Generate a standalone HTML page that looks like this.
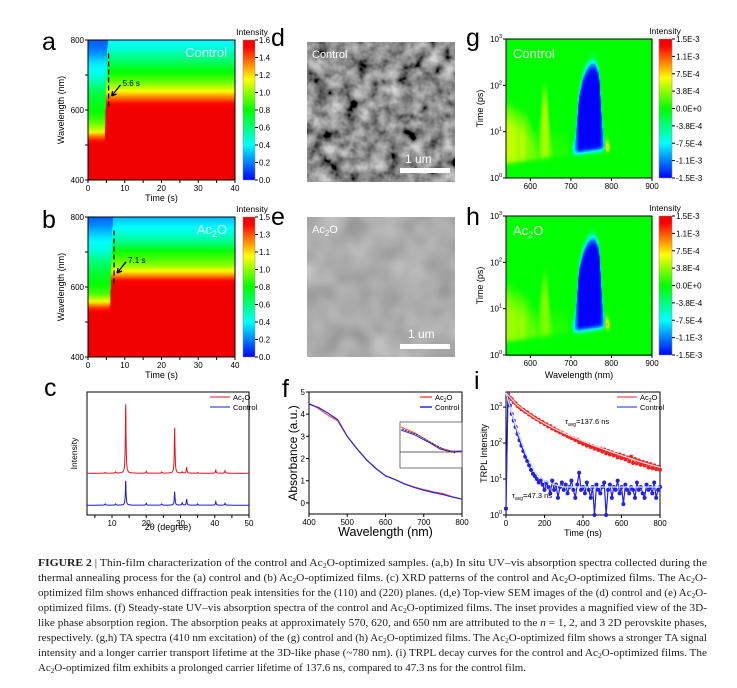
<!DOCTYPE html>
<html><head><meta charset="utf-8">
<style>
html,body{margin:0;padding:0;background:#fff;}
#fig{position:relative;width:737px;height:688px;overflow:hidden;font-family:"Liberation Sans",sans-serif;}
canvas{position:absolute;}
#ov{position:absolute;left:0;top:0;}
</style></head>
<body>
<div id="fig">
<canvas id="ca" width="147" height="140" style="left:88px;top:40px"></canvas>
<canvas id="cb" width="147" height="140" style="left:88px;top:217px"></canvas>
<canvas id="cg" width="146" height="139" style="left:506px;top:39px"></canvas>
<canvas id="ch" width="146" height="140" style="left:506px;top:216px"></canvas>
<svg id="ov" width="737" height="688" xmlns="http://www.w3.org/2000/svg">
<defs>
<linearGradient id="jet" x1="0" y1="1" x2="0" y2="0">
<stop offset="0" stop-color="#0000ff"/><stop offset="0.25" stop-color="#00ffff"/><stop offset="0.5" stop-color="#00ff00"/><stop offset="0.72" stop-color="#ffff00"/><stop offset="0.95" stop-color="#ff0000"/><stop offset="1" stop-color="#f00000"/>
</linearGradient>
<filter id="semA" x="0" y="0" width="1" height="1"><feTurbulence type="fractalNoise" baseFrequency="0.07" numOctaves="3" seed="3"/><feColorMatrix type="matrix" values="0.33 0.33 0.33 0 0  0.33 0.33 0.33 0 0  0.33 0.33 0.33 0 0  0 0 0 0 1"/><feComponentTransfer><feFuncR type="linear" slope="1.7" intercept="-0.57"/><feFuncG type="linear" slope="1.7" intercept="-0.57"/><feFuncB type="linear" slope="1.7" intercept="-0.57"/></feComponentTransfer></filter>
<filter id="semB" x="0" y="0" width="1" height="1"><feTurbulence type="fractalNoise" baseFrequency="0.035" numOctaves="2" seed="7"/><feColorMatrix type="matrix" values="0.33 0.33 0.33 0 0  0.33 0.33 0.33 0 0  0.33 0.33 0.33 0 0  0 0 0 0 1"/><feComponentTransfer><feFuncR type="linear" slope="0.6" intercept="0.12"/><feFuncG type="linear" slope="0.6" intercept="0.12"/><feFuncB type="linear" slope="0.6" intercept="0.12"/></feComponentTransfer></filter>
</defs>
<g id="root"></g>
<rect x="307" y="42" width="148" height="140" fill="#555" filter="url(#semA)"/>
<text x="312" y="58" font-size="11" fill="#fff">Control</text>
<text x="405" y="163" font-size="12" fill="#fff">1 um</text>
<rect x="400" y="168" width="50" height="5" fill="#fff"/>
<rect x="307" y="217" width="148" height="140" fill="#666" filter="url(#semB)"/>
<text x="312" y="233" font-size="11" fill="#fff">Ac<tspan font-size="8" dy="3">2</tspan><tspan dy="-3">O</tspan></text>
<text x="408" y="338" font-size="12" fill="#fff">1 um</text>
<rect x="400" y="344" width="50" height="5" fill="#fff"/>
<g font-size="25" fill="#000">
<text x="42" y="50">a</text><text x="42" y="228">b</text><text x="44" y="396">c</text>
<text x="271" y="46">d</text><text x="271" y="225">e</text><text x="282" y="397">f</text>
<text x="466" y="46">g</text><text x="466" y="225">h</text><text x="474" y="389">i</text>
</g>
<g font-family="Liberation Serif, serif" font-size="10.5" fill="#222">
<text x="38" y="566" textLength="669" lengthAdjust="spacingAndGlyphs"><tspan font-weight="bold">FIGURE 2</tspan>  |  Thin-film characterization of the control and Ac<tspan font-size="7" dy="2">2</tspan><tspan dy="-2">O-optimized samples. (a,b) In situ UV–vis absorption spectra collected during the</tspan></text>
<text x="38" y="581" textLength="669" lengthAdjust="spacingAndGlyphs">thermal annealing process for the (a) control and (b) Ac<tspan font-size="7" dy="2">2</tspan><tspan dy="-2">O-optimized films. (c) XRD patterns of the control and Ac</tspan><tspan font-size="7" dy="2">2</tspan><tspan dy="-2">O-optimized films. The Ac</tspan><tspan font-size="7" dy="2">2</tspan><tspan dy="-2">O-</tspan></text>
<text x="38" y="596" textLength="669" lengthAdjust="spacingAndGlyphs">optimized film shows enhanced diffraction peak intensities for the (110) and (220) planes. (d,e) Top-view SEM images of the (d) control and (e) Ac<tspan font-size="7" dy="2">2</tspan><tspan dy="-2">O-</tspan></text>
<text x="38" y="611" textLength="669" lengthAdjust="spacingAndGlyphs">optimized films. (f) Steady-state UV–vis absorption spectra of the control and Ac<tspan font-size="7" dy="2">2</tspan><tspan dy="-2">O-optimized films. The inset provides a magnified view of the 3D-</tspan></text>
<text x="38" y="626" textLength="669" lengthAdjust="spacingAndGlyphs">like phase absorption region. The absorption peaks at approximately 570, 620, and 650 nm are attributed to the <tspan font-style="italic">n</tspan> = 1, 2, and 3 2D perovskite phases,</text>
<text x="38" y="641" textLength="669" lengthAdjust="spacingAndGlyphs">respectively. (g,h) TA spectra (410 nm excitation) of the (g) control and (h) Ac<tspan font-size="7" dy="2">2</tspan><tspan dy="-2">O-optimized films. The Ac</tspan><tspan font-size="7" dy="2">2</tspan><tspan dy="-2">O-optimized film shows a stronger TA signal</tspan></text>
<text x="38" y="656" textLength="669" lengthAdjust="spacingAndGlyphs">intensity and a longer carrier transport lifetime at the 3D-like phase (~780 nm). (i) TRPL decay curves for the control and Ac<tspan font-size="7" dy="2">2</tspan><tspan dy="-2">O-optimized films. The</tspan></text>
<text x="38" y="671" textLength="488" lengthAdjust="spacingAndGlyphs">Ac<tspan font-size="7" dy="2">2</tspan><tspan dy="-2">O-optimized film exhibits a prolonged carrier lifetime of 137.6 ns, compared to 47.3 ns for the control film.</tspan></text>
</g>
</svg>
</div>
<script>
// ---------- DATA ----------
const wlAB = [400,420,440,460,480,500,520,540,560,580,600,620,640,660,680,700,720,740,760,780,800];
const preA  = [1.6,1.6,1.6,1.6,1.6,1.6,1.4,1.1,0.95,0.85,0.8,0.75,0.72,0.65,0.55,0.45,0.4,0.35,0.25,0.18,0.15];
const postA = [1.6,1.6,1.6,1.6,1.6,1.6,1.6,1.6,1.6,1.6,1.6,1.5,1.3,1.1,0.95,0.85,0.75,0.65,0.55,0.45,0.4];
const switchA = [4.2,5.3];
const markA = 5.6;
const preB  = [1.5,1.5,1.5,1.5,1.5,1.5,1.5,1.35,1.05,0.85,0.78,0.72,0.68,0.62,0.55,0.45,0.4,0.35,0.28,0.2,0.15];
const postB = [1.5,1.5,1.5,1.5,1.5,1.5,1.5,1.5,1.5,1.5,1.5,1.4,1.15,0.95,0.85,0.78,0.62,0.5,0.42,0.35,0.28];
const switchB = [5.6,6.7];
const markB = 7.1;
const ticksA = ["1.6","1.4","1.2","1.0","0.8","0.6","0.4","0.2","0.0"];
const ticksB = ["1.5","1.3","1.1","1.0","0.8","0.6","0.4","0.2","0.0"];
const wlTA = [540,550,560,570,580,590,600,610,620,630,640,650,660,670,680,690,700,710,720,730,740,750,760,770,780,790,800,810,820,830,840,850,860,870,880,890,900];
const ampG = [5,5,5,4,5,3.5,3,3,2,4,4.5,2,1,1,1,1,0,-10,-15,-15,-15,-15,-15,-15,-12,15,1,0,0,0,0,0,0,0,0,0,0];
const endG = [1.6,1.6,1.5,1.5,1.4,1.4,1.2,1.0,1.0,2.0,2.0,1.0,1.0,1.0,1.0,1.0,0.7,0.8,1.8,2.2,2.4,2.5,2.5,2.3,0.9,0.72,0.7,0,0,0,0,0,0,0,0,0,0];
const ampH = [4,4,4,3.5,4,3,2.5,2.5,2,3,3.5,2,1,1,1,1,0,-10,-15,-15,-15,-15,-15,-15,-12,15,1,0,0,0,0,0,0,0,0,0,0];
const endH = [1.5,1.5,1.4,1.4,1.3,1.3,1.1,1.0,1.0,1.8,1.8,1.0,1.0,1.0,1.0,1.0,0.7,0.8,1.9,2.25,2.45,2.55,2.55,2.35,0.95,0.74,0.7,0,0,0,0,0,0,0,0,0,0];
const ticksTA = ["1.5E-3","1.1E-3","7.5E-4","3.8E-4","0.0E+0","-3.8E-4","-7.5E-4","-1.1E-3","-1.5E-3"];
const xrdPos = [8,11,14,20,24.5,28.3,30.5,31.8,35,40.3,43];
const xrdRedH = [0.5,1,56,1.5,1,37,1,5,0.5,2.5,2];
const xrdBlueH = [1,1,20,1.5,1,11,2,5,1,3,1.5];
const xrdRedBase = 34, xrdBlueBase = 8;
const absWl = [400,425,450,475,500,525,550,575,600,625,650,675,700,725,750,775,800];
const absControl = [4.45,4.3,4.05,3.75,3.0,2.45,1.95,1.55,1.22,1.05,0.85,0.7,0.57,0.47,0.38,0.26,0.17];
const absAc2O = [4.5,4.25,3.95,3.7,3.0,2.45,1.95,1.55,1.22,1.05,0.86,0.72,0.6,0.5,0.42,0.28,0.17];
const trplStep = 10;
const trplAc2O = [1.5,2300,1850,1650,1380,1270,1080,1000,880,840,740,720,630,600,530,510,460,440,390,385,340,330,290,295,255,255,225,220,200,195,175,172,155,150,138,135,122,124,105,108,95,98,85,90,78,82,70,75,64,70,58,66,52,60,48,55,45,50,40,48,38,44,35,40,31,42,28,36,27,33,25,30,24,28,21,26,20,24,19,22,18];
const trplControl = [1.5,2000,1100,650,420,280,180,120,85,60,42,32,24,18,14,12,10,8,9,7,5,8,6,4,9,5,7,3,6,8,5,7,4,6,9,5,3,7,15,5,6,4,8,5,3,6,1,7,5,4,6,8,1,5,7,3,6,5,9,4,6,2,7,5,4,6,5,3,8,5,6,4,3,7,5,6,4,8,3,5,6];
const fitStep = 50;
const fitAc2O = [2500,1250,760,500,350,255,190,145,112,88,70,56,45,37,30,25,21];
const fitControl = [2500,300,55,16,9,7,6,6,6,6,6,6,6,6,6,6,6];

// ---------- helpers ----------
const NS="http://www.w3.org/2000/svg";
const root=document.getElementById('root');
function mk(tag,attrs,parent){const e=document.createElementNS(NS,tag);for(const k in attrs)e.setAttribute(k,attrs[k]);(parent||root).appendChild(e);return e;}
function txt(s,x,y,size,anchor,parent,extra){const e=mk('text',Object.assign({x:x,y:y,'font-size':size,'text-anchor':anchor||'middle',fill:'#000'},extra||{}),parent);e.textContent=s;return e;}
function jet(f){f=Math.max(0,Math.min(1,f));const st=[[0,0,0,255],[0.25,0,255,255],[0.5,0,255,0],[0.72,255,255,0],[0.95,255,0,0],[1,240,0,0]];
for(let i=1;i<st.length;i++){if(f<=st[i][0]){const a=st[i-1],b=st[i],u=(f-a[0])/(b[0]-a[0]);return [a[1]+u*(b[1]-a[1]),a[2]+u*(b[2]-a[2]),a[3]+u*(b[3]-a[3])];}}return [240,0,0];}
function heat(id,cols,rows,fn){const cv=document.getElementById(id);const off=document.createElement('canvas');off.width=cols;off.height=rows;const c=off.getContext('2d');const im=c.createImageData(cols,rows);
for(let r=0;r<rows;r++)for(let q=0;q<cols;q++){const col=jet(fn(q,r));const p=(r*cols+q)*4;im.data[p]=col[0];im.data[p+1]=col[1];im.data[p+2]=col[2];im.data[p+3]=255;}
c.putImageData(im,0,0);const ctx=cv.getContext('2d');ctx.imageSmoothingEnabled=true;ctx.drawImage(off,0,0,cv.width,cv.height);}
function frame(x0,y0,x1,y1,name){const r=mk('rect',{x:x0,y:y0,width:x1-x0,height:y1-y0,fill:'none',stroke:'#000','stroke-width':1});

}
function xTicks(vals,sx,y,labels,size,name){for(let i=0;i<vals.length;i++){const X=sx(vals[i]);const l=mk('line',{x1:X,y1:y,x2:X,y2:y+3,stroke:'#000'});


if(labels){const t=txt(labels[i],X,y+11,size);

}}}
function yTicks(vals,sy,x,labels,size,name){for(let i=0;i<vals.length;i++){const Y=sy(vals[i]);const l=mk('line',{x1:x-3,y1:Y,x2:x,y2:Y,stroke:'#000'});


if(labels){const t=txt(labels[i],x-4,Y+3,size,'end');

}}}
function poly(pts,color,w,name,extra){const p=mk('polyline',Object.assign({points:pts.map(p=>p[0].toFixed(1)+','+p[1].toFixed(1)).join(' '),fill:'none',stroke:color,'stroke-width':w},extra||{}));

return p;}
function interp(arr,xs,x){if(x<=xs[0])return arr[0];for(let i=1;i<xs.length;i++){if(x<=xs[i]){const u=(x-xs[i-1])/(xs[i]-xs[i-1]);return arr[i-1]+u*(arr[i]-arr[i-1]);}}return arr[arr.length-1];}
function sig(z){return 1/(1+Math.exp(-z));}

// ---------- panels a,b ----------
function panelAB(id,y0,pre,post,sw,mark,vmax,ticks,tag,name){
 const x0=88,x1=235,y1=y0+140;
 const sx=t=>x0+(t-0)/40*(x1-x0), sy=w=>y1-(w-400)/400*(y1-y0);
 const cols=321,rows=81;
 heat(id,cols,rows,(q,r)=>{const t=q/(cols-1)*40;const wl=800-r/(rows-1)*400;const s=sw[0]+(sw[1]-sw[0])*(wl-400)/400;
  const v=t<s?interp(pre,wlAB,wl):interp(post,wlAB,wl);return v/vmax;});
 frame(x0,y0,x1,y1,name+'-plot-frame');
 xTicks([0,10,20,30,40],sx,y1,['0','10','20','30','40'],8,name+'-x');
 xTicks([5,15,25,35],sx,y1,null,8,name+'-x-minor');
 yTicks([400,600,800],sy,x0,['400','600','800'],8,name+'-y');
 yTicks([500,700],sy,x0,null,8,name+'-y-minor');
 const xl=txt('Time (s)',(x0+x1)/2,y1+21,9);
 
 
 const yl=txt('Wavelength (nm)',0,0,9,'middle',root,{transform:`translate(64,${(y0+y1)/2}) rotate(-90)`});
 
 
 const dl=mk('line',{x1:sx(mark),y1:sy(610),x2:sx(mark),y2:sy(770),stroke:'#000','stroke-width':1.3,'stroke-dasharray':'5,3'});
 
 
 const ar=mk('path',{d:`M${sx(mark)+12},${sy(672)} L${sx(mark)+3},${sy(640)} M${sx(mark)+3},${sy(640)} l1,-5 M${sx(mark)+3},${sy(640)} l5,-2`,stroke:'#000','stroke-width':1.3,fill:'none'});
 
 
 const at=txt(mark.toFixed(1)+' s',sx(mark)+14,sy(668),8,'start');
 
 
 const lab=mk('text',{x:x1-8,y:y0+17,'font-size':13,'text-anchor':'end',fill:'#d8fff8'});
 lab.innerHTML=tag;
 
 
 const cb=mk('rect',{x:243,y:y0,width:12,height:140,fill:'url(#jet)',stroke:'#888','stroke-width':0.5});
 
 
 const ct=txt('Intensity',252,y0-5,8.5);
 
 
 for(let i=0;i<ticks.length;i++){const Y=y0+i*140/(ticks.length-1);
  const tl=mk('line',{x1:255,y1:Y,x2:258,y2:Y,stroke:'#000'});
  
  
  const t=txt(ticks[i],259,Y+3,8,'start');
  
  }
}
panelAB('ca',40,preA,postA,switchA,markA,1.6,ticksA,'Control','panel-a');
panelAB('cb',217,preB,postB,switchB,markB,1.5,ticksB,'Ac<tspan font-size="9" dy="3">2</tspan><tspan dy="-3">O</tspan>','panel-b');

// ---------- panels g,h ----------
function panelTA(id,y0,amp,end,tag,name,showX){
 const x0=506,x1=652,y1=y0+139;
 const sx=w=>x0+(w-540)/360*(x1-x0), sy=l=>y1-l/3*(y1-y0);
 const cols=146,rows=139;
 heat(id,cols,rows,(q,r)=>{const wl=540+q/(cols-1)*360;const lg=3-r/(rows-1)*3;
  const a=interp(amp,wlTA,wl), e=interp(end,wlTA,wl);
  const onset=0.3+0.3*Math.min(1,(wl-540)/240);
  let v=a*sig((e-lg)/0.06)*sig((lg-onset)/0.03);
  if(a>0&&a<10){v*=Math.min(1,Math.max(0,(e-lg)/0.8+0.35));}
  return 0.5+v/30;});
 frame(x0,y0,x1,y1,name+'-plot-frame');
 xTicks([600,700,800,900],sx,y1,['600','700','800','900'],8,name+'-x');
 yTicks([0,1,2,3],sy,x0,null,8,name+'-y');
 for(let d=0;d<=3;d++){const t=mk('text',{x:x0-4,y:sy(d)+3,'font-size':8,'text-anchor':'end'});
  t.innerHTML='10<tspan font-size="5.5" dy="-4">'+d+'</tspan>';
  
  }
 if(showX){const xl=txt('Wavelength (nm)',(x0+x1)/2,y1+23,9);
  
  }
 const yl=txt('Time (ps)',0,0,9,'middle',root,{transform:`translate(483,${(y0+y1)/2}) rotate(-90)`});
 
 
 const lab=mk('text',{x:x0+7,y:y0+19,'font-size':13,fill:'#e8ffe0'});
 lab.innerHTML=tag;
 
 
 const cb=mk('rect',{x:659,y:y0,width:13,height:139,fill:'url(#jet)',stroke:'#888','stroke-width':0.5});
 
 
 const ct=txt('Intensity',665,y0-5,8.5);
 
 
 for(let i=0;i<ticksTA.length;i++){const Y=y0+i*139/(ticksTA.length-1);
  const tl=mk('line',{x1:672,y1:Y,x2:675,y2:Y,stroke:'#000'});
  
  
  const t=txt(ticksTA[i],676,Y+3,8,'start');
  
  }
}
panelTA('cg',39,ampG,endG,'Control','panel-g',false);
panelTA('ch',216,ampH,endH,'Ac<tspan font-size="9" dy="3">2</tspan><tspan dy="-3">O</tspan>','panel-h',true);

// ---------- panel c ----------
(function(){
 const x0=87,x1=249,y0=392,y1=515;
 const sx=v=>x0+(v-2.7)/(50-2.7)*(x1-x0), sy=v=>y1-v/100*(y1-y0);
 frame(x0,y0,x1,y1,'panel-c-plot-frame');
 xTicks([10,20,30,40,50],sx,y1,['10','20','30','40','50'],8,'panel-c-x');
 xTicks([5,15,25,35,45],sx,y1,null,8,'panel-c-x-minor');
 function pattern(h,base){const pts=[];for(let x=2.7;x<=50;x+=0.05){let v=base;for(let i=0;i<xrdPos.length;i++){const d=(x-xrdPos[i])/0.12;v+=h[i]/(1+d*d);}pts.push([sx(x),sy(v)]);}return pts;}
 poly(pattern(xrdRedH,xrdRedBase),'#e8141c',1,'xrd-ac2o-line');
 poly(pattern(xrdBlueH,xrdBlueBase),'#1f1fc8',1,'xrd-control-line');
 const xl=txt('2θ (degree)',(x0+x1)/2,530,9);
 
 
 const yl=txt('Intensity',0,0,8.5,'middle',root,{transform:`translate(77,${(y0+y1)/2}) rotate(-90)`});
 
 
 const l1=mk('line',{x1:210,y1:397,x2:230,y2:397,stroke:'#e8141c'});
 
 
 const t1=mk('text',{x:233,y:400,'font-size':7.5});t1.innerHTML='Ac<tspan font-size="5" dy="2">2</tspan><tspan dy="-2">O</tspan>';
 
 
 const l2=mk('line',{x1:210,y1:407,x2:230,y2:407,stroke:'#1f1fc8'});
 
 
 const t2=txt('Control',233,410,7.5,'start');
 
 
})();

// ---------- panel f ----------
(function(){
 const x0=309,x1=462,y0=392,y1=514;
 const sx=v=>x0+(v-400)/400*(x1-x0), sy=v=>y1-(v+0.5)/5.5*(y1-y0);
 frame(x0,y0,x1,y1,'panel-f-plot-frame');
 xTicks([400,500,600,700,800],sx,y1,['400','500','600','700','800'],8,'panel-f-x');
 yTicks([0,1,2,3,4,5],sy,x0,['0','1','2','3','4','5'],8,'panel-f-y');
 poly(absWl.map((w,i)=>[sx(w),sy(absAc2O[i])]),'#ff4d4d',1.2,'absorbance-ac2o-line');
 poly(absWl.map((w,i)=>[sx(w),sy(absControl[i])]),'#2a2ad8',1.2,'absorbance-control-line');
 const xl=txt('Wavelength (nm)',(x0+x1)/2,536,12.5);
 
 
 const yl=txt('Absorbance (a.u.)',0,0,12,'middle',root,{transform:`translate(297,${(y0+y1)/2}) rotate(-90)`});
 
 
 const ib=mk('rect',{x:400,y:422,width:62,height:46,fill:'#fff',stroke:'#555','stroke-width':0.8});
 
 
 const ih=mk('line',{x1:400,y1:452,x2:462,y2:452,stroke:'#333','stroke-width':0.7});
 
 
 poly([[401,427],[415,433],[430,442],[440,448],[452,451],[462,451]],'#ff4d4d',1,'inset-ac2o-line');
 poly([[401,430],[415,435],[430,443],[440,449],[452,452],[462,451]],'#2a2ad8',1,'inset-control-line');
 poly([[402,429],[418,435],[432,443],[445,450],[455,453]],'#222',0.8,'inset-fit-line',{'stroke-dasharray':'2,1'});
 const l1=mk('line',{x1:420,y1:397,x2:432,y2:397,stroke:'#ff4d4d','stroke-width':1.5});
 
 
 const t1=mk('text',{x:435,y:400,'font-size':7.5});t1.innerHTML='Ac<tspan font-size="5" dy="2">2</tspan><tspan dy="-2">O</tspan>';
 
 
 const l2=mk('line',{x1:420,y1:407,x2:432,y2:407,stroke:'#2a2ad8','stroke-width':1.5});
 
 
 const t2=txt('Control',435,410,7.5,'start');
 
 
})();

// ---------- panel i ----------
(function(){
 const x0=506,x1=660,y0=392,y1=515;
 const sx=v=>x0+v/800*(x1-x0), sy=v=>y1-Math.log10(Math.max(v,1))/3.42*(y1-y0);
 frame(x0,y0,x1,y1,'panel-i-plot-frame');
 xTicks([0,200,400,600,800],sx,y1,['0','200','400','600','800'],8,'panel-i-x');
 yTicks([1,10,100,1000],sy,x0,null,8,'panel-i-y');
 for(let d=0;d<=3;d++){const t=mk('text',{x:x0-4,y:sy(Math.pow(10,d))+3,'font-size':8,'text-anchor':'end'});
  t.innerHTML='10<tspan font-size="5.5" dy="-4">'+d+'</tspan>';
  
  }
 function series(arr,color,name){const pts=arr.map((v,i)=>[sx(i*trplStep),sy(v)]);poly(pts,color,1.2,name+'-line');
  pts.forEach(p=>{const c=mk('circle',{cx:p[0],cy:p[1],r:2,fill:color});
   
   });}
 series(trplAc2O,'#ee2222','trpl-ac2o');
 series(trplControl,'#2222dd','trpl-control');
 poly(fitAc2O.map((v,i)=>[sx(i*fitStep),sy(v)]),'#ffd0d0',1.3,'trpl-ac2o-fit');
 poly(fitControl.map((v,i)=>[sx(i*fitStep),sy(v)]),'#d0dcff',1.3,'trpl-control-fit');
 const a1=mk('text',{x:565,y:424,'font-size':7.5});a1.innerHTML='τ<tspan font-size="5" dy="2">avg</tspan><tspan dy="-2">=137.6 ns</tspan>';
 
 
 const a2=mk('text',{x:512,y:498,'font-size':7.5});a2.innerHTML='τ<tspan font-size="5" dy="2">avg</tspan><tspan dy="-2">=47.3 ns</tspan>';
 
 
 const xl=txt('Time (ns)',(x0+x1)/2,536,9);
 
 
 const yl=txt('TRPL Intensity',0,0,9,'middle',root,{transform:`translate(487,${(y0+y1)/2}) rotate(-90)`});
 
 
 const l1=mk('line',{x1:617,y1:397,x2:637,y2:397,stroke:'#ee2222'});
 
 
 const t1=mk('text',{x:640,y:400,'font-size':7.5});t1.innerHTML='Ac<tspan font-size="5" dy="2">2</tspan><tspan dy="-2">O</tspan>';
 
 
 const l2=mk('line',{x1:617,y1:407,x2:637,y2:407,stroke:'#2222dd'});
 
 
 const t2=txt('Control',640,410,7.5,'start');
 
 
})();
</script>
</body></html>
